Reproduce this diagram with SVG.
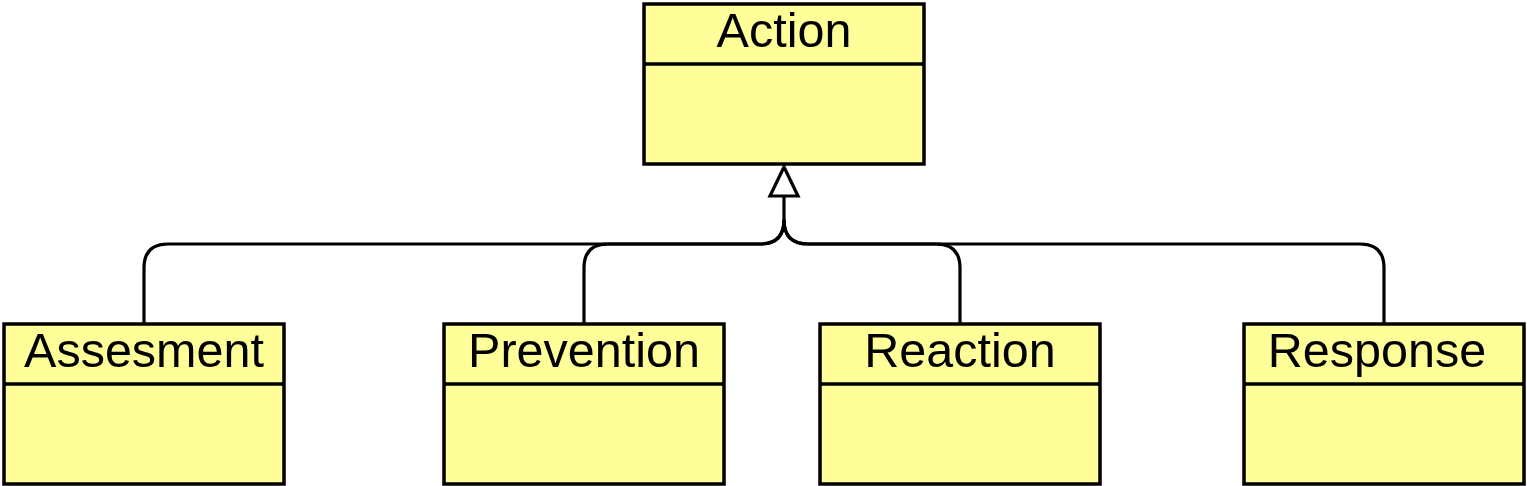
<svg xmlns="http://www.w3.org/2000/svg" width="1527" height="486" viewBox="0 0 1527 486">
<style>
.box{fill:#ffff99;stroke:#000;stroke-width:3.5}
.div{stroke:#000;stroke-width:3.5;fill:none}
.lbl{font-family:"Liberation Sans",Arial,sans-serif;font-size:48.5px;fill:#000;text-anchor:middle}
.edge{fill:none;stroke:#000;stroke-width:3.2}
</style>
<rect width="1527" height="486" fill="#fff"/>
<g id="connectors">
<path class="edge" d="M144 324 L144 268 Q144 244 168 244 L760 244 Q784 244 784 220 L784 196"/>
<path class="edge" d="M584 324 L584 268 Q584 244 608 244 L760 244 Q784 244 784 220"/>
<path class="edge" d="M960 324 L960 268 Q960 244 936 244 L808 244 Q784 244 784 220"/>
<path class="edge" d="M1384 324 L1384 268 Q1384 244 1360 244 L808 244 Q784 244 784 220"/>
<polygon points="784,167 770,196 798,196" fill="#fff" stroke="#000" stroke-width="3.2" stroke-linejoin="miter"/>
</g>
<g id="action">
<rect class="box" x="644" y="4" width="280" height="160"/>
<line class="div" x1="644" y1="64" x2="924" y2="64"/>
<text class="lbl" x="784" y="47">Action</text>
</g>
<g id="assesment">
<rect class="box" x="4" y="324" width="280" height="160"/>
<line class="div" x1="4" y1="384" x2="284" y2="384"/>
<text class="lbl" x="144" y="367">Assesment</text>
</g>
<g id="prevention">
<rect class="box" x="444" y="324" width="280" height="160"/>
<line class="div" x1="444" y1="384" x2="724" y2="384"/>
<text class="lbl" x="584" y="367">Prevention</text>
</g>
<g id="reaction">
<rect class="box" x="820" y="324" width="280" height="160"/>
<line class="div" x1="820" y1="384" x2="1100" y2="384"/>
<text class="lbl" x="960" y="367">Reaction</text>
</g>
<g id="response">
<rect class="box" x="1244" y="324" width="280" height="160"/>
<line class="div" x1="1244" y1="384" x2="1524" y2="384"/>
<text class="lbl" x="1377" y="367">Response</text>
</g>
</svg>
